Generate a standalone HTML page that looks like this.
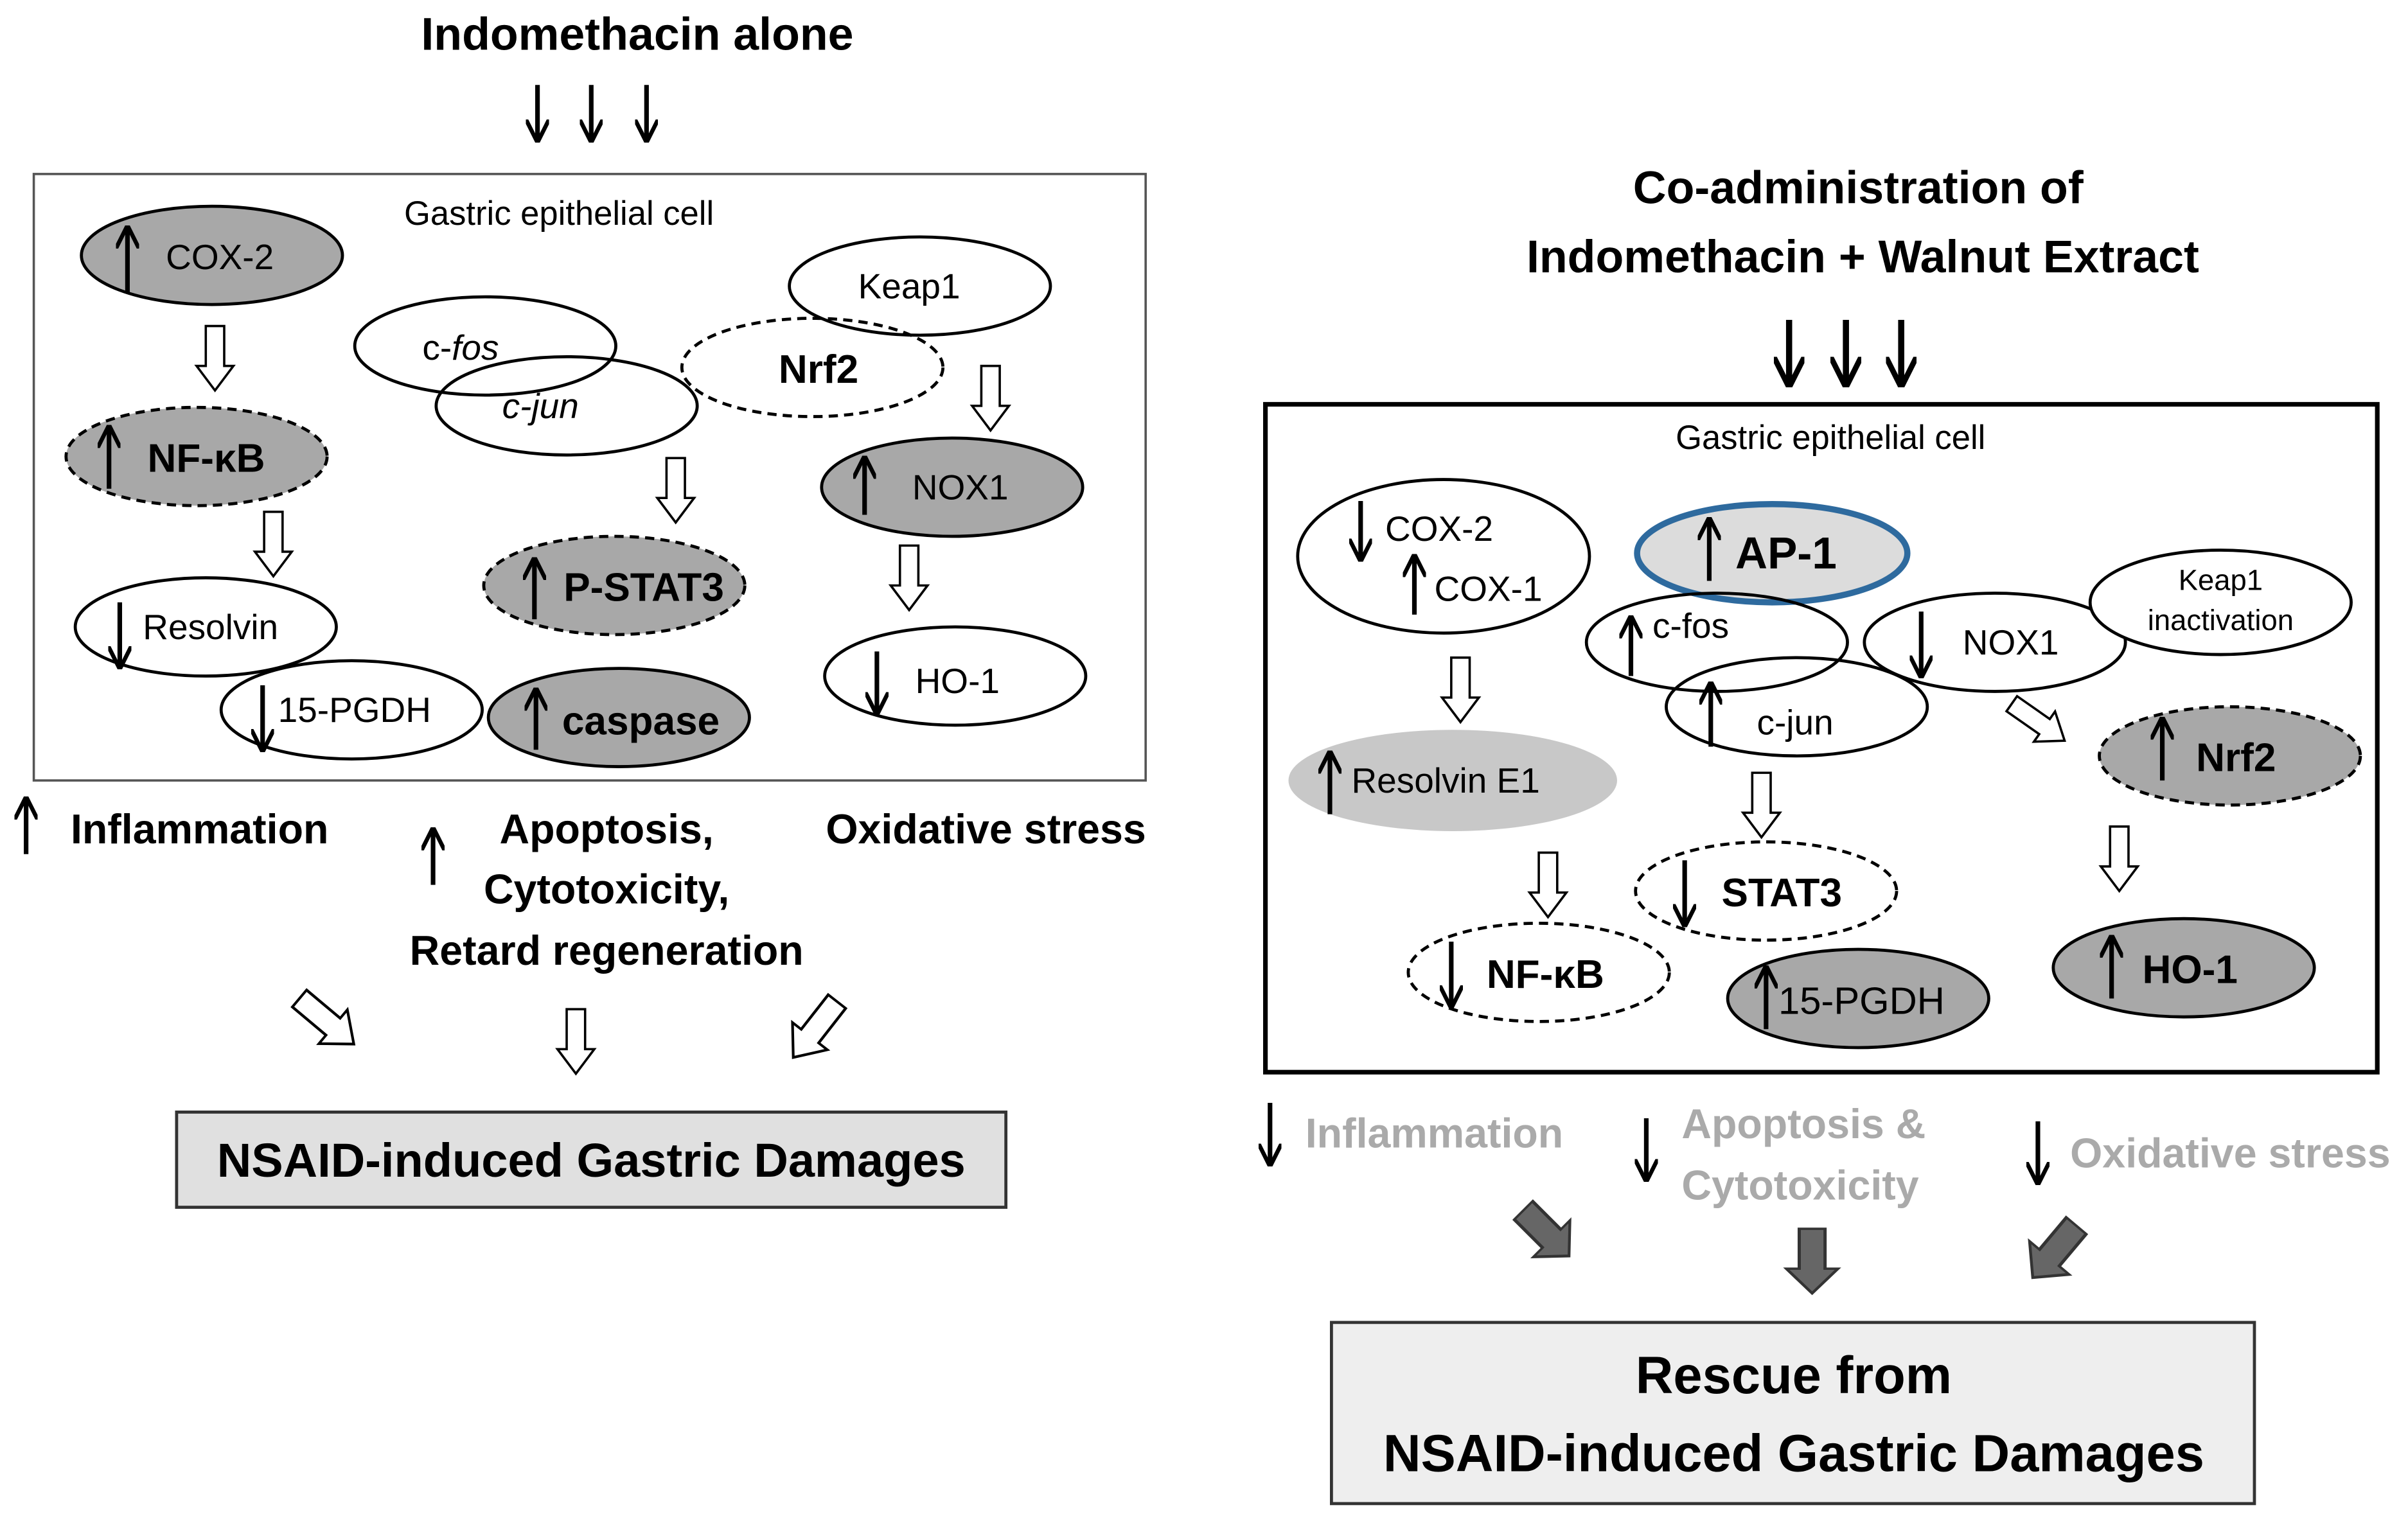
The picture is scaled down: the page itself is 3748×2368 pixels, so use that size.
<!DOCTYPE html>
<html><head><meta charset="utf-8"><style>
html,body{margin:0;padding:0;background:#fff}
svg{display:block}
text{font-family:"Liberation Sans",sans-serif}
</style></head><body>
<svg width="3748" height="2368" viewBox="0 0 1568 990" xmlns="http://www.w3.org/2000/svg">
<defs>
<marker id="ah" viewBox="0 0 10 10" refX="9" refY="5" markerWidth="5" markerHeight="5" orient="auto"><path d="M0,0 L10,5 L0,10" fill="none" stroke="#000" stroke-width="1.8"/></marker>
<path id="ha" d="M-6,0 H6 V26 H12 L0,42 L-12,26 H-6 Z"/>
</defs>
<style>
.e{stroke:#000;stroke-width:2}
.g{fill:#a8a8a8}
.w{fill:#fff}
.d{stroke-dasharray:6,4}
.t{font-size:23px}
.b{font-size:26px;font-weight:bold}
.h{fill:#fff;stroke:#000;stroke-width:1.5}
.k{fill:#666;stroke:#333;stroke-width:1.5}
.ar{stroke:#000;stroke-width:3;marker-end:url(#ah)}
.gy{fill:#aaa;font-size:27px;font-weight:bold}
</style>
<!-- LEFT -->
<text x="415" y="32" text-anchor="middle" font-size="30" font-weight="bold">Indomethacin alone</text>
<line class="ar" x1="350" y1="55" x2="350" y2="91"/><line class="ar" x1="385" y1="55" x2="385" y2="91"/><line class="ar" x1="421" y1="55" x2="421" y2="91"/>
<rect x="22" y="113" width="724" height="395" fill="none" stroke="#555" stroke-width="1.5"/>
<text x="364" y="146" text-anchor="middle" font-size="22">Gastric epithelial cell</text>

<ellipse class="e g" cx="138" cy="166" rx="85" ry="32"/>
<line class="ar" x1="83" y1="190" x2="83" y2="148"/><text class="t" x="108" y="175">COX-2</text>
<use href="#ha" x="140" y="212" class="h"/>
<ellipse class="e g d" cx="128" cy="297" rx="85" ry="32"/>
<line class="ar" x1="71" y1="318" x2="71" y2="278"/><text class="b" x="96" y="307">NF-κB</text>
<use href="#ha" x="178" y="333" class="h"/>
<ellipse class="e w" cx="134" cy="408" rx="85" ry="32"/>
<line class="ar" x1="78" y1="392" x2="78" y2="434"/><text class="t" x="93" y="416">Resolvin</text>
<ellipse class="e" fill="none" cx="229" cy="462" rx="85" ry="32"/>
<line class="ar" x1="171" y1="446" x2="171" y2="488"/><text class="t" x="181" y="470">15-PGDH</text>

<ellipse class="e" fill="none" cx="316" cy="225" rx="85" ry="32"/>
<ellipse class="e" fill="none" cx="369" cy="264" rx="85" ry="32"/>
<text class="t" x="275" y="234">c-<tspan font-style="italic">fos</tspan></text>
<text class="t" x="327" y="272" font-style="italic">c-jun</text>

<ellipse class="e w" cx="599" cy="186" rx="85" ry="32"/>
<text class="t" x="592" y="194" text-anchor="middle">Keap1</text>
<ellipse class="e d" fill="none" cx="529" cy="239" rx="85" ry="32"/>
<text class="b" x="533" y="249" text-anchor="middle">Nrf2</text>
<use href="#ha" x="645" y="238" class="h"/>
<ellipse class="e g" cx="620" cy="317" rx="85" ry="32"/>
<line class="ar" x1="563" y1="335" x2="563" y2="298"/><text class="t" x="594" y="325">NOX1</text>
<use href="#ha" x="592" y="355" class="h"/>
<ellipse class="e w" cx="622" cy="440" rx="85" ry="32"/>
<line class="ar" x1="571" y1="424" x2="571" y2="464"/><text class="t" x="596" y="451">HO-1</text>

<use href="#ha" x="440" y="298" class="h"/>
<ellipse class="e g d" cx="400" cy="381" rx="85" ry="32"/>
<line class="ar" x1="348" y1="403" x2="348" y2="364"/><text class="b" x="367" y="391">P-STAT3</text>
<ellipse class="e g" cx="403" cy="467" rx="85" ry="32"/>
<line class="ar" x1="349" y1="488" x2="349" y2="449"/><text class="b" x="366" y="478">caspase</text>

<line class="ar" x1="17" y1="556" x2="17" y2="520"/>
<text x="46" y="549" font-size="27" font-weight="bold">Inflammation</text>
<line class="ar" x1="282" y1="576" x2="282" y2="540"/>
<text x="395" y="549" text-anchor="middle" font-size="27" font-weight="bold">Apoptosis,</text>
<text x="395" y="588" text-anchor="middle" font-size="27" font-weight="bold">Cytotoxicity,</text>
<text x="395" y="628" text-anchor="middle" font-size="27" font-weight="bold">Retard regeneration</text>
<text x="642" y="549" text-anchor="middle" font-size="27" font-weight="bold">Oxidative stress</text>

<use href="#ha" class="h" transform="translate(195,650) rotate(-50) scale(1.2,1.1)"/>
<use href="#ha" class="h" transform="translate(375,657)"/>
<use href="#ha" class="h" transform="translate(545,652) rotate(38) scale(1.2,1.1)"/>
<rect x="115" y="724" width="540" height="62" fill="#e0e0e0" stroke="#333" stroke-width="2"/>
<text x="385" y="766" text-anchor="middle" font-size="31" font-weight="bold">NSAID-induced Gastric Damages</text>

<!-- RIGHT -->
<text x="1210" y="132" text-anchor="middle" font-size="30" font-weight="bold">Co-administration of</text>
<text x="1213" y="177" text-anchor="middle" font-size="30" font-weight="bold">Indomethacin + Walnut Extract</text>
<line class="ar" x1="1165" y1="208" x2="1165" y2="250" style="stroke-width:4"/><line class="ar" x1="1202" y1="208" x2="1202" y2="250" style="stroke-width:4"/><line class="ar" x1="1238" y1="208" x2="1238" y2="250" style="stroke-width:4"/>
<rect x="824" y="263" width="724" height="435" fill="none" stroke="#000" stroke-width="3"/>
<text x="1192" y="292" text-anchor="middle" font-size="22">Gastric epithelial cell</text>

<ellipse class="e w" cx="940" cy="362" rx="95" ry="50"/>
<line class="ar" x1="886" y1="326" x2="886" y2="364"/><text class="t" x="902" y="352">COX-2</text>
<line class="ar" x1="921" y1="400" x2="921" y2="362"/><text class="t" x="934" y="391">COX-1</text>
<ellipse cx="1154" cy="360" rx="88" ry="32" fill="#dcdcdc" stroke="#2e6a9e" stroke-width="4"/>
<line class="ar" x1="1113" y1="378" x2="1113" y2="338"/><text class="b" x="1130" y="370" style="font-size:29px">AP-1</text>
<ellipse class="e" fill="none" cx="1118" cy="418" rx="85" ry="32"/>
<ellipse class="e" fill="none" cx="1170" cy="460" rx="85" ry="32"/>
<line class="ar" x1="1062" y1="440" x2="1062" y2="402"/><text class="t" x="1076" y="415">c-fos</text>
<line class="ar" x1="1114" y1="486" x2="1114" y2="445"/><text class="t" x="1144" y="478">c-jun</text>
<ellipse class="e" fill="none" cx="1299" cy="418" rx="85" ry="32"/>
<line class="ar" x1="1251" y1="398" x2="1251" y2="440"/><text class="t" x="1278" y="426">NOX1</text>
<ellipse class="e w" cx="1446" cy="392" rx="85" ry="34"/>
<text x="1446" y="384" text-anchor="middle" font-size="19">Keap1</text>
<text x="1446" y="410" text-anchor="middle" font-size="19">inactivation</text>
<use href="#ha" x="951" y="428" class="h"/>
<ellipse cx="946" cy="508" rx="107" ry="33" fill="#c8c8c8"/>
<line class="ar" x1="866" y1="530" x2="866" y2="490"/><text class="t" x="880" y="516">Resolvin E1</text>
<use href="#ha" class="h" transform="translate(1310,458) rotate(-55)"/>
<ellipse class="e g d" cx="1452" cy="492" rx="85" ry="32"/>
<line class="ar" x1="1408" y1="508" x2="1408" y2="468"/><text class="b" x="1430" y="502">Nrf2</text>
<use href="#ha" x="1147" y="503" class="h"/>
<ellipse class="e w d" cx="1150" cy="580" rx="85" ry="32"/>
<line class="ar" x1="1097" y1="560" x2="1097" y2="602"/><text class="b" x="1121" y="590">STAT3</text>
<use href="#ha" x="1008" y="555" class="h"/>
<ellipse class="e w d" cx="1002" cy="633" rx="85" ry="32"/>
<line class="ar" x1="945" y1="613" x2="945" y2="655"/><text class="b" x="968" y="643">NF-κB</text>
<ellipse class="e g" cx="1210" cy="650" rx="85" ry="32"/>
<line class="ar" x1="1150" y1="670" x2="1150" y2="630"/><text class="t" x="1158" y="660" style="font-size:25px">15-PGDH</text>
<use href="#ha" x="1380" y="538" class="h"/>
<ellipse class="e g" cx="1422" cy="630" rx="85" ry="32"/>
<line class="ar" x1="1375" y1="650" x2="1375" y2="610"/><text class="b" x="1395" y="640">HO-1</text>

<line class="ar" x1="827" y1="718" x2="827" y2="758"/><text class="gy" x="850" y="747">Inflammation</text>
<line class="ar" x1="1072" y1="728" x2="1072" y2="768"/>
<text class="gy" x="1095" y="741">Apoptosis &amp;</text><text class="gy" x="1095" y="781">Cytotoxicity</text>
<line class="ar" x1="1327" y1="730" x2="1327" y2="770"/><text class="gy" x="1348" y="760">Oxidative stress</text>
<use href="#ha" class="k" transform="translate(992,788) rotate(-45) scale(1.4,1.0)"/>
<use href="#ha" class="k" transform="translate(1180,800) scale(1.4,1.0)"/>
<use href="#ha" class="k" transform="translate(1352,798) rotate(40) scale(1.4,1.05)"/>
<rect x="867" y="861" width="601" height="118" fill="#eeeeee" stroke="#333" stroke-width="2"/>
<text x="1168" y="907" text-anchor="middle" font-size="34" font-weight="bold">Rescue from</text>
<text x="1168" y="958" text-anchor="middle" font-size="34" font-weight="bold">NSAID-induced Gastric Damages</text>
</svg>
</body></html>
